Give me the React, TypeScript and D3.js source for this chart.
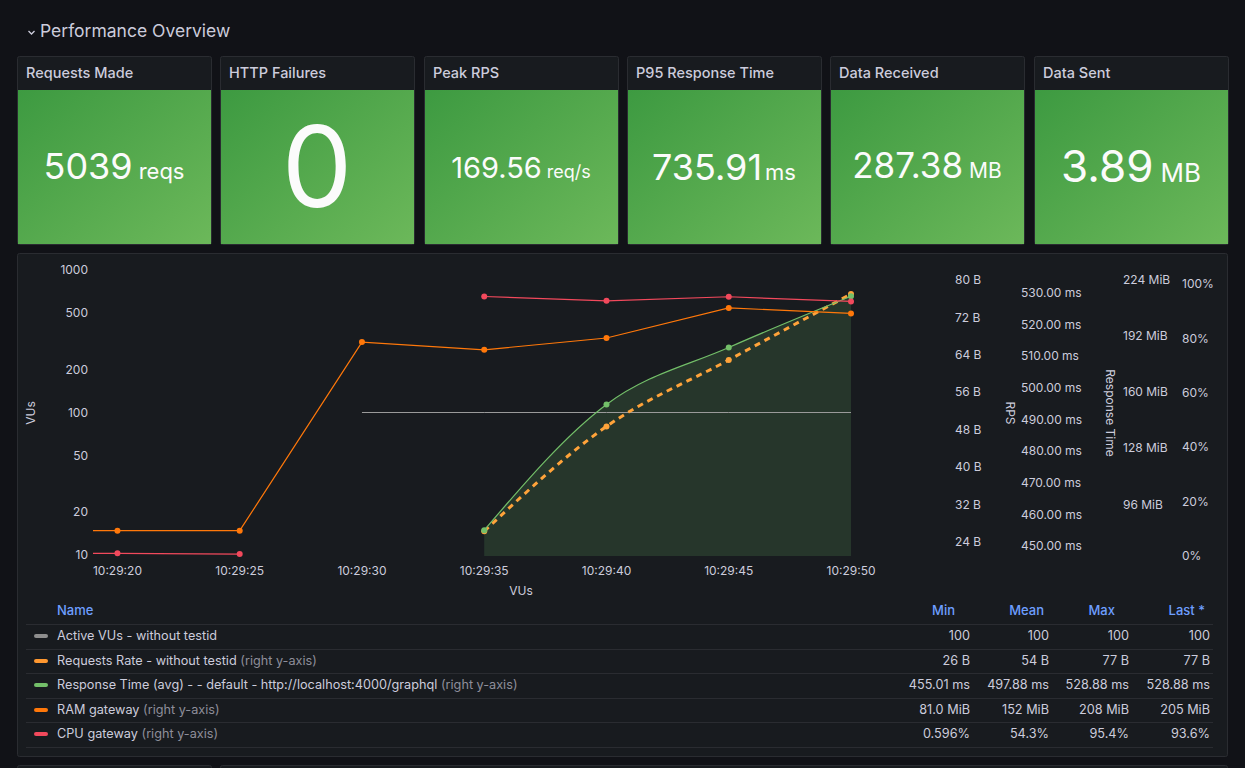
import React from "react";
import * as d3 from "d3";

// ---------- data ----------
const statTitles = ["Requests Made", "HTTP Failures", "Peak RPS", "P95 Response Time", "Data Received", "Data Sent"];
const statValues = ["5039", "0", "169.56", "735.91", "287.38", "3.89"];
const statUnits = ["reqs", "", "req/s", "ms", "MB", "MB"];

const times = ["10:29:15", "10:29:20", "10:29:25", "10:29:30", "10:29:35", "10:29:40", "10:29:45", "10:29:50"];
const activeVUs: (number | null)[] = [null, null, null, 100, 100, 100, 100, 100];
const requestsRate: (number | null)[] = [null, null, null, null, 26.3, 48.7, 62.9, 77];
const responseTime: (number | null)[] = [null, null, null, null, 455.01, 494.7, 512.7, 528.88];
const ramGateway: (number | null)[] = [81, 81, 81, 188.3, 183.9, 190.6, 207.7, 204.6];
const cpuGateway: (number | null)[] = [0.9, 0.88, 0.596, null, 95.4, 93.8, 95.3, 93.6];

const vuTicks = [10, 20, 50, 100, 200, 500, 1000];
const bytesTicks = [24, 32, 40, 48, 56, 64, 72, 80];
const msTicks = [450, 460, 470, 480, 490, 500, 510, 520, 530];
const mibTicks = [96, 128, 160, 192, 224];
const pctTicks = [0, 20, 40, 60, 80, 100];

const legendNames = [
  "Active VUs - without testid",
  "Requests Rate - without testid",
  "Response Time (avg) - - default - http://localhost:4000/graphql",
  "RAM gateway",
  "CPU gateway",
];
const legendRightAxis = [false, true, true, true, true];
const legendColors = ["#8e8e8e", "#FF9830", "#73BF69", "#FF780A", "#F2495C"];
const legendHeaders = ["Min", "Mean", "Max", "Last *"];
const legendMin = ["100", "26 B", "455.01 ms", "81.0 MiB", "0.596%"];
const legendMean = ["100", "54 B", "497.88 ms", "152 MiB", "54.3%"];
const legendMax = ["100", "77 B", "528.88 ms", "208 MiB", "95.4%"];
const legendLast = ["100", "77 B", "528.88 ms", "205 MiB", "93.6%"];

// ---------- layout ----------
const FONT = "Inter, 'Noto Sans', sans-serif";
const TEXT = "#ccccdc";
const parseT = d3.timeParse("%H:%M:%S");
const dates = times.map((t) => parseT(t) as Date);

const statX = [17, 220, 424, 627, 830, 1034];
const statW = 194;
const statValueSize = [36, 112, 29, 36, 35, 44];
const statUnitSize = [22, 0, 18, 22, 21, 26];
const statBaseline = [179, 207, 178, 180, 178, 182];
const statUnitGap = [6, 0, 5, 3, 6, 7];

const plotL = 93, plotR = 851, plotT = 262, plotB = 556;

const x = d3.scaleTime().domain([parseT("10:29:19") as Date, parseT("10:29:50") as Date]).range([plotL, plotR]);
const yVU = d3.scaleLog().domain([10, 1000]).range([555, 270]);
const yBytes = d3.scaleLinear().domain([24, 80]).range([542, 280]);
const yMs = d3.scaleLinear().domain([450, 530]).range([546, 292.7]);
const yMiB = d3.scaleLinear().domain([96, 224]).range([504.3, 279.3]);
const yPct = d3.scaleLinear().domain([0, 100]).range([555.7, 284]);

type Pt = { d: Date; v: number | null };
const pts = (arr: (number | null)[]): Pt[] => arr.map((v, i) => ({ d: dates[i], v }));

function linePath(arr: (number | null)[], y: (v: number) => number, curve: d3.CurveFactory) {
  return d3
    .line<Pt>()
    .defined((p) => p.v !== null)
    .x((p) => x(p.d))
    .y((p) => y(p.v as number))
    .curve(curve)(pts(arr)) as string;
}
function areaPath(arr: (number | null)[], y: (v: number) => number, curve: d3.CurveFactory) {
  return d3
    .area<Pt>()
    .defined((p) => p.v !== null)
    .x((p) => x(p.d))
    .y0(plotB)
    .y1((p) => y(p.v as number))
    .curve(curve)(pts(arr)) as string;
}

const Dots = ({ arr, y, color, r }: { arr: (number | null)[]; y: (v: number) => number; color: string; r: number }) => (
  <g>
    {pts(arr)
      .filter((p) => p.v !== null && x(p.d) >= plotL)
      .map((p, i) => (
        <circle key={i} cx={x(p.d)} cy={y(p.v as number)} r={r} fill={color} />
      ))}
  </g>
);

export default function App() {
  const xTicks = x.ticks(d3.timeSecond.every(5) as d3.TimeInterval);
  const fmt = d3.timeFormat("%H:%M:%S");
  const rowY = [636, 661, 685, 710, 734];
  const sepY = [624, 649, 673, 698, 722, 747];
  const colRight = [970, 1049, 1129, 1210];
  const headRight = [955, 1044, 1115, 1205];
  const cols = [legendMin, legendMean, legendMax, legendLast];

  return (
    <div style={{ position: "absolute", left: 0, top: 0, width: 1245, height: 768, overflow: "hidden" }}>
      <svg width={1245} height={768} style={{ display: "block", fontFamily: FONT }}>
        <defs>
          <linearGradient id="statGrad" x1="0" y1="0" x2="1" y2="1">
            <stop offset="0" stopColor="#3d9a41" />
            <stop offset="1" stopColor="#6cb85a" />
          </linearGradient>
          <clipPath id="plotClip">
            <rect x={plotL} y={plotT - 10} width={plotR - plotL + 10} height={plotB - plotT + 20} />
          </clipPath>
        </defs>
        <rect width={1245} height={768} fill="#111217" />

        {/* header */}
        <path d="M28.5 31 L31.5 34 L34.5 31" fill="none" stroke={TEXT} strokeWidth={1.3} />
        <text x={40} y={37} fill={TEXT} fontSize={17.5} fontWeight={400}>Performance Overview</text>

        {/* stat panels */}
        {statTitles.map((t, i) => {
          const px = statX[i];
          const cx = px + statW / 2;
          return (
            <g key={t}>
              <rect x={px + 0.5} y={56.5} width={statW} height={188} rx={2} fill="#181b1f" stroke="#2a2c31" />
              <rect x={px + 1} y={90} width={statW - 1} height={154} fill="url(#statGrad)" />
              <text x={px + 9} y={78} fill={TEXT} fontSize={14.5} fontWeight={500}>{t}</text>
              <text x={cx} y={statBaseline[i]} textAnchor="middle" fill="#fbfbfb">
                <tspan fontSize={statValueSize[i]} fontWeight={400}>{statValues[i]}</tspan>
                {statUnits[i] ? (
                  <tspan fontSize={statUnitSize[i]} fontWeight={400} dx={statUnitGap[i]}>{statUnits[i]}</tspan>
                ) : null}
              </text>
            </g>
          );
        })}

        {/* chart panel */}
        <rect x={17.5} y={253.5} width={1210} height={503} rx={2} fill="#181b1f" stroke="#2a2c31" />

        {/* left axis */}
        {vuTicks.map((t) => (
          <text key={t} x={88} y={yVU(t)} dy="0.35em" textAnchor="end" fill={TEXT} fontSize={12}>{t}</text>
        ))}
        <text transform={`translate(35,413) rotate(-90)`} textAnchor="middle" fill={TEXT} fontSize={12}>VUs</text>

        {/* x axis */}
        {xTicks.map((t, i) => (
          <text key={i} x={x(t)} y={575} textAnchor="middle" fill={TEXT} fontSize={12}>{fmt(t)}</text>
        ))}
        <text x={521} y={595} textAnchor="middle" fill={TEXT} fontSize={12}>VUs</text>

        {/* right axes */}
        {bytesTicks.map((t) => (
          <text key={t} x={955} y={yBytes(t)} dy="0.35em" fill={TEXT} fontSize={12}>{`${t} B`}</text>
        ))}
        <text transform={`translate(1006,413) rotate(90)`} textAnchor="middle" fill={TEXT} fontSize={12}>RPS</text>
        {msTicks.map((t) => (
          <text key={t} x={1021} y={yMs(t)} dy="0.35em" fill={TEXT} fontSize={12}>{`${t.toFixed(2)} ms`}</text>
        ))}
        <text transform={`translate(1106,413) rotate(90)`} textAnchor="middle" fill={TEXT} fontSize={12}>Response Time</text>
        {mibTicks.map((t) => (
          <text key={t} x={1123} y={yMiB(t)} dy="0.35em" fill={TEXT} fontSize={12}>{`${t} MiB`}</text>
        ))}
        {pctTicks.map((t) => (
          <text key={t} x={1182} y={yPct(t)} dy="0.35em" fill={TEXT} fontSize={12}>{`${t}%`}</text>
        ))}

        {/* series */}
        <g clipPath="url(#plotClip)">
          <path d={areaPath(responseTime, yMs, d3.curveMonotoneX)} fill="#73BF69" fillOpacity={0.17} />
          <path d={linePath(activeVUs, yVU, d3.curveLinear)} fill="none" stroke="#9a9a9a" strokeWidth={1} />
          <path d={linePath(requestsRate, yBytes, d3.curveMonotoneX)} fill="none" stroke="#FFA33A" strokeWidth={3} strokeDasharray="6 5" />
          <Dots arr={requestsRate} y={yBytes} color="#FFA33A" r={3} />
          <path d={linePath(responseTime, yMs, d3.curveMonotoneX)} fill="none" stroke="#73BF69" strokeWidth={1.2} />
          <Dots arr={responseTime} y={yMs} color="#73BF69" r={3} />
          <path d={linePath(ramGateway, yMiB, d3.curveLinear)} fill="none" stroke="#FF780A" strokeWidth={1.2} />
          <Dots arr={ramGateway} y={yMiB} color="#FF780A" r={3} />
          <path d={linePath(cpuGateway, yPct, d3.curveLinear)} fill="none" stroke="#F2495C" strokeWidth={1.2} />
          <Dots arr={cpuGateway} y={yPct} color="#F2495C" r={3} />
        </g>

        {/* legend */}
        <text x={57} y={615} fill="#6E9FFF" fontSize={13} fontWeight={500}>Name</text>
        {legendHeaders.map((h, i) => (
          <text key={h} x={headRight[i]} y={615} textAnchor="end" fill="#6E9FFF" fontSize={13} fontWeight={500}>{h}</text>
        ))}
        {sepY.map((yy, i) => (
          <line key={i} x1={26} x2={1213} y1={yy + 0.5} y2={yy + 0.5} stroke="#2a2c31" />
        ))}
        {legendNames.map((n, i) => (
          <g key={n}>
            <rect x={34} y={rowY[i] - 2} width={14} height={4} rx={2} fill={legendColors[i]} />
            <text x={57} y={rowY[i]} dy="0.35em" fontSize={12.7} fill={TEXT}>
              {n}
              {legendRightAxis[i] ? <tspan fill="#8e8e9a"> (right y-axis)</tspan> : null}
            </text>
            {cols.map((c, j) => (
              <text key={j} x={colRight[j]} y={rowY[i]} dy="0.35em" textAnchor="end" fontSize={12.7} fill={TEXT}>{c[i]}</text>
            ))}
          </g>
        ))}

        {/* next row panels (partially visible) */}
        <rect x={17.5} y={765.5} width={194} height={20} rx={2} fill="#181b1f" stroke="#2a2c31" />
        <rect x={220.5} y={765.5} width={1007} height={20} rx={2} fill="#181b1f" stroke="#2a2c31" />
      </svg>
    </div>
  );
}
